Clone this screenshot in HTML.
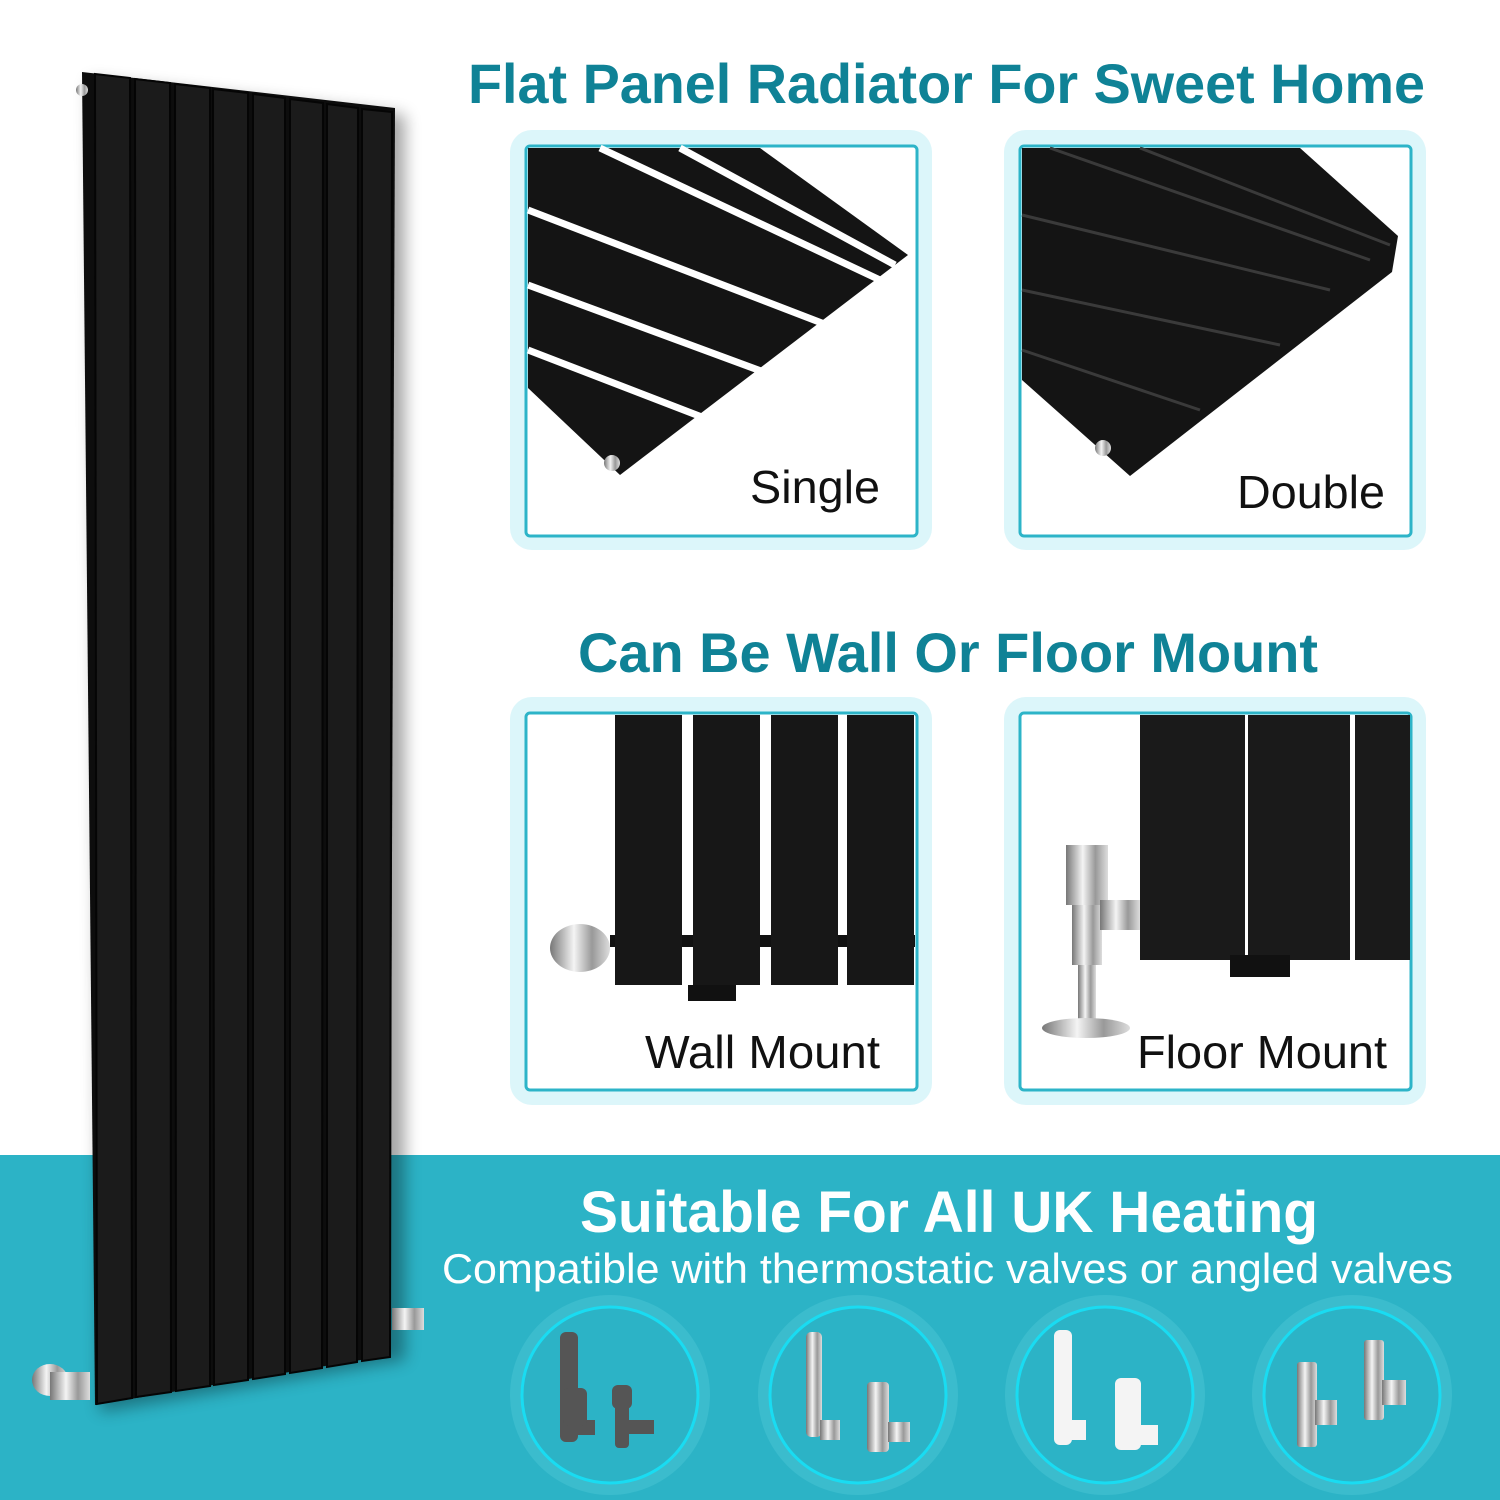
<!DOCTYPE html>
<html><head><meta charset="utf-8"><style>html,body{margin:0;padding:0;background:#fff}svg{display:block}</style></head><body>
<svg width="1500" height="1500" viewBox="0 0 1500 1500" xmlns="http://www.w3.org/2000/svg" font-family="Liberation Sans, sans-serif">
<defs>
<linearGradient id="chrome" x1="0" x2="1"><stop offset="0" stop-color="#777"/><stop offset=".4" stop-color="#f4f4f4"/><stop offset=".7" stop-color="#999"/><stop offset="1" stop-color="#ddd"/></linearGradient>
<filter id="sh" x="-20%" y="-5%" width="140%" height="110%"><feGaussianBlur stdDeviation="8"/></filter>
</defs>
<rect width="1500" height="1500" fill="#fff"/>
<rect x="0" y="1155" width="1500" height="345" fill="#2cb3c6"/>
<!-- titles -->
<text x="468" y="103" font-size="56" font-weight="bold" fill="#0f8296" textLength="957" lengthAdjust="spacingAndGlyphs">Flat Panel Radiator For Sweet Home</text>
<text x="578" y="672" font-size="56" font-weight="bold" fill="#0f8296" textLength="740" lengthAdjust="spacingAndGlyphs">Can Be Wall Or Floor Mount</text>
<!-- panels -->
<g fill="#dcf6fa">
<rect x="510" y="130" width="422" height="420" rx="22"/>
<rect x="1004" y="130" width="422" height="420" rx="22"/>
<rect x="510" y="697" width="422" height="408" rx="22"/>
<rect x="1004" y="697" width="422" height="408" rx="22"/>
</g>
<g fill="#fff" stroke="#2db4c8" stroke-width="3">
<rect x="526" y="146" width="391" height="390" rx="4"/>
<rect x="1020" y="146" width="391" height="390" rx="4"/>
<rect x="526" y="713" width="391" height="377" rx="4"/>
<rect x="1020" y="713" width="391" height="377" rx="4"/>
</g>
<!-- single -->
<polygon points="528,148 760,148 908,255 620,475 528,388" fill="#141414"/>
<g stroke="#fff" stroke-width="7">
<line x1="528" y1="210" x2="840" y2="330"/><line x1="528" y1="285" x2="780" y2="378"/><line x1="528" y1="350" x2="720" y2="424"/>
<line x1="600" y1="148" x2="880" y2="280"/><line x1="680" y1="148" x2="895" y2="265"/>
</g>
<circle cx="612" cy="463" r="8" fill="url(#chrome)"/>
<!-- double -->
<polygon points="1022,148 1300,148 1398,236 1392,272 1130,476 1022,380" fill="#141414"/>
<g stroke="#3a3a3a" stroke-width="3">
<line x1="1022" y1="215" x2="1330" y2="290"/><line x1="1022" y1="290" x2="1280" y2="345"/><line x1="1050" y1="148" x2="1370" y2="260"/><line x1="1140" y1="148" x2="1390" y2="245"/><line x1="1022" y1="350" x2="1200" y2="410"/>
</g>
<circle cx="1103" cy="448" r="8" fill="url(#chrome)"/>
<!-- wall mount -->
<rect x="610" y="935" width="305" height="12" fill="#111"/>
<g fill="#171717">
<rect x="615" y="715" width="67" height="270"/><rect x="693" y="715" width="67" height="270"/><rect x="771" y="715" width="67" height="270"/><rect x="847" y="715" width="67" height="270"/>
</g>
<rect x="688" y="985" width="48" height="16" fill="#111"/>
<ellipse cx="580" cy="948" rx="30" ry="24" fill="url(#chrome)"/>
<!-- floor mount -->
<g fill="#1a1a1a">
<rect x="1140" y="715" width="105" height="245"/><rect x="1248" y="715" width="102" height="245"/><rect x="1355" y="715" width="55" height="245"/>
</g>
<rect x="1230" y="955" width="60" height="22" fill="#111"/>
<rect x="1066" y="845" width="42" height="60" fill="url(#chrome)"/>
<rect x="1072" y="905" width="30" height="60" fill="url(#chrome)"/>
<rect x="1100" y="900" width="40" height="30" fill="url(#chrome)"/>
<rect x="1078" y="965" width="18" height="55" fill="url(#chrome)"/>
<ellipse cx="1086" cy="1028" rx="44" ry="10" fill="url(#chrome)"/>
<!-- labels -->
<g fill="#111" font-size="46">
<text x="750" y="503" textLength="130" lengthAdjust="spacingAndGlyphs">Single</text>
<text x="1237" y="508" textLength="148" lengthAdjust="spacingAndGlyphs">Double</text>
<text x="645" y="1068" textLength="235" lengthAdjust="spacingAndGlyphs">Wall Mount</text>
<text x="1137" y="1068" textLength="250" lengthAdjust="spacingAndGlyphs">Floor Mount</text>
</g>
<!-- radiator -->
<polygon points="90,80 405,115 405,1360 100,1412" fill="#000" opacity=".35" filter="url(#sh)"/>
<polygon points="82,72 395,108 390,1355 95,1405" fill="#0d0d0d"/>
<g fill="#1b1b1b" stroke="#050505" stroke-width="2">
<polygon points="95,74 130,78 132,1398 97,1404"/>
<polygon points="135,79 170,83 171,1392 136,1397"/>
<polygon points="175,84 210,88 210,1386 176,1391"/>
<polygon points="213,89 248,93 248,1380 214,1385"/>
<polygon points="253,94 285,98 285,1374 253,1379"/>
<polygon points="290,99 323,103 322,1368 290,1373"/>
<polygon points="327,104 358,108 357,1362 327,1367"/>
<polygon points="362,109 392,112 390,1357 362,1361"/>
</g>
<circle cx="82" cy="90" r="6" fill="url(#chrome)"/>
<ellipse cx="50" cy="1380" rx="18" ry="16" fill="url(#chrome)"/>
<rect x="50" y="1372" width="40" height="28" fill="url(#chrome)"/>
<rect x="392" y="1308" width="32" height="22" fill="url(#chrome)"/>
<!-- bottom text -->
<text x="580" y="1232" font-size="58" font-weight="bold" fill="#fff" textLength="738" lengthAdjust="spacingAndGlyphs">Suitable For All UK Heating</text>
<text x="442" y="1283" font-size="42" fill="#fff" textLength="1011" lengthAdjust="spacingAndGlyphs">Compatible with thermostatic valves or angled valves</text>
<!-- circles -->
<g>
<circle cx="610" cy="1395" r="100" fill="#3bbccd"/><circle cx="610" cy="1395" r="88" fill="#2cb3c6" stroke="#19dcf2" stroke-width="3"/>
<circle cx="858" cy="1395" r="100" fill="#3bbccd"/><circle cx="858" cy="1395" r="88" fill="#2cb3c6" stroke="#19dcf2" stroke-width="3"/>
<circle cx="1105" cy="1395" r="100" fill="#3bbccd"/><circle cx="1105" cy="1395" r="88" fill="#2cb3c6" stroke="#19dcf2" stroke-width="3"/>
<circle cx="1352" cy="1395" r="100" fill="#3bbccd"/><circle cx="1352" cy="1395" r="88" fill="#2cb3c6" stroke="#19dcf2" stroke-width="3"/>
</g>
<!-- valves -->
<g fill="#555">
<rect x="560" y="1332" width="18" height="110" rx="6"/><rect x="565" y="1420" width="30" height="15"/>
<rect x="563" y="1388" width="24" height="38" rx="6"/><rect x="615" y="1388" width="14" height="60" rx="4"/><rect x="612" y="1385" width="20" height="24" rx="6"/><rect x="628" y="1420" width="26" height="14"/>
</g>
<g fill="url(#chrome)">
<rect x="806" y="1332" width="16" height="105" rx="5"/><rect x="867" y="1382" width="22" height="70" rx="4"/><rect x="820" y="1420" width="20" height="20"/><rect x="888" y="1422" width="22" height="20"/>
<rect x="1297" y="1362" width="20" height="85" rx="3"/><rect x="1364" y="1340" width="20" height="80" rx="3"/><rect x="1315" y="1400" width="22" height="25"/><rect x="1382" y="1380" width="24" height="25"/>
</g>
<g fill="#f4f4f4">
<rect x="1054" y="1330" width="18" height="115" rx="6"/><rect x="1115" y="1378" width="26" height="72" rx="6"/><rect x="1070" y="1420" width="16" height="20"/><rect x="1140" y="1425" width="18" height="20"/>
</g>
</svg>
</body></html>
